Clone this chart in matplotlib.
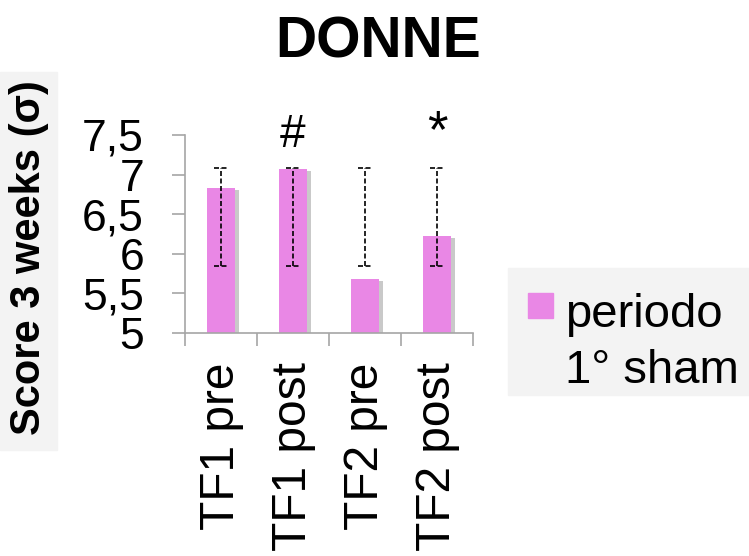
import matplotlib
matplotlib.use("Agg")
import matplotlib.pyplot as plt
import matplotlib.patheffects as pe
from matplotlib.patches import Rectangle
import numpy as np

# values
labels = ["TF1 pre", "TF1 post", "TF2 pre", "TF2 post"]
scores = [6.83, 7.07, 5.68, 6.22]
err_low = [5.84, 5.84, 5.84, 5.84]
err_high = [7.08, 7.08, 7.08, 7.08]
marks = ["", "#", "", "*"]
yticks = [5, 5.5, 6, 6.5, 7, 7.5]
ytick_labels = ["5", "5,5", "6", "6,5", "7", "7,5"]

PINK = "#E987E5"
AXC = "#A6A6A6"
BOX = "#F3F3F3"
plt.rcParams["font.family"] = ["Liberation Sans", "DejaVu Sans"]

W, H = 749, 556
fig = plt.figure(figsize=(W / 100, H / 100), dpi=100)
ax = fig.add_axes([185 / W, 1 - 333 / H, (473 - 185) / W, (333 - 135) / H])

x = np.arange(len(labels))
bars = ax.bar(x, scores, width=0.39, color=PINK, zorder=2)
for b in bars:
    b.set_path_effects([pe.SimplePatchShadow(offset=(2.5, -1.5), shadow_rgbFace="#666666", alpha=0.35), pe.Normal()])
dash = (0, (3, 1.5))
ax.vlines(x, err_low, err_high, colors="black", linestyles=dash, lw=1.2, zorder=3)
ax.hlines(err_low, x - 0.1, x + 0.1, colors="black", linestyles=dash, lw=1.2, zorder=3)
ax.hlines(err_high, x - 0.1, x + 0.1, colors="black", linestyles=dash, lw=1.2, zorder=3)
for xi, m in zip(x, marks):
    if m == "#":
        ax.text(xi, 7.5, m, ha="center", va="center", fontsize=33, clip_on=False)
    elif m == "*":
        ax.text(xi, 7.53, m, ha="center", va="center", fontsize=38, clip_on=False)

ax.set_ylim(5, 7.5)
ax.set_xlim(-0.5, 3.5)
ax.set_yticks(yticks)
ax.set_yticklabels(ytick_labels, fontsize=32)
ax.set_xticks(x)
ax.set_xticklabels(labels, rotation=90, fontsize=34.5, va="top")
ax.set_xticks(np.arange(-0.5, 4, 1), minor=True)
ax.tick_params(axis="x", which="major", length=0, pad=21)
ax.tick_params(axis="x", which="minor", length=9.5, width=1.2, color=AXC, direction="out")
ax.tick_params(axis="y", length=9.5, width=1.2, color=AXC, pad=20)
for s in ["top", "right"]:
    ax.spines[s].set_visible(False)
for s in ["left", "bottom"]:
    ax.spines[s].set_color(AXC)
    ax.spines[s].set_linewidth(1.2)

# title
fig.text(378 / W, 1 - 57 / H, "DONNE", ha="center", va="baseline", fontsize=41, fontweight="bold")

# y label with grey box
fig.patches.append(Rectangle((0, 1 - 450 / H), 57 / W, (450 - 72) / H, transform=fig.transFigure, color=BOX, zorder=0))
fig.text(29 / W, 1 - 258 / H, "Score 3 weeks (σ)", rotation=90, ha="center", va="center", fontsize=30, fontweight="bold")

# legend box
fig.patches.append(Rectangle((508 / W, 1 - 395 / H), (W - 508) / W, (395 - 268) / H, transform=fig.transFigure, color=BOX, zorder=0))
fig.patches.append(Rectangle((528 / W, 1 - 318 / H), 25 / W, 25 / H, transform=fig.transFigure, color=PINK, zorder=1))
fig.text(565 / W, 1 - 327 / H, "periodo", ha="left", va="baseline", fontsize=34)
fig.text(565 / W, 1 - 383 / H, "1° sham", ha="left", va="baseline", fontsize=34)

fig.savefig("out.png", dpi=100, facecolor="white")
